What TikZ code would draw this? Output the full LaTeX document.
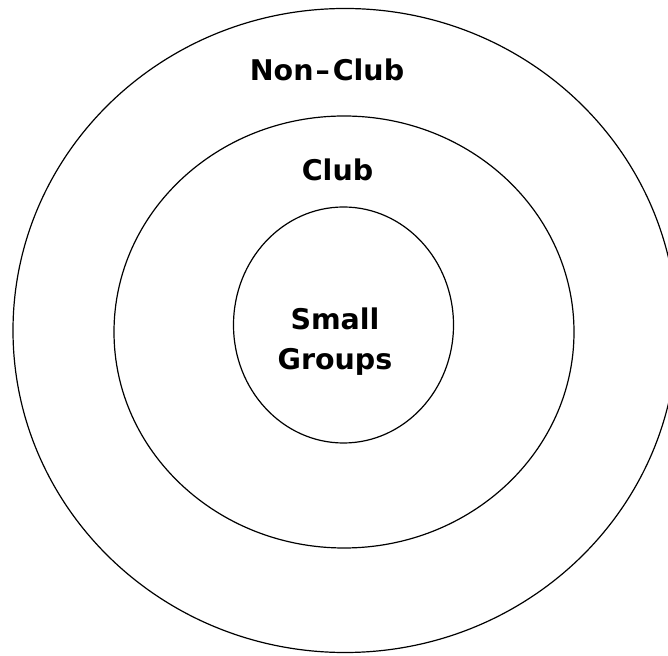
\documentclass[tikz,border=0pt]{standalone}
\usepackage{fontspec}
\setmainfont{DejaVu Sans}
\usepackage{tikz}
\usetikzlibrary{positioning}

\begin{document}
\begin{tikzpicture}[x=1pt,y=1pt,line width=1.2pt,
    ringlabel/.style={font=\bfseries\fontsize{28.5}{40}\selectfont,inner sep=0pt,align=center}]
  \useasboundingbox (0,0) rectangle (668,655);
  \clip (0,0) rectangle (668,655);
  % rings, outer to inner
  \draw (345,324.5) ellipse [x radius=332,y radius=322];
  \draw (344,323) ellipse [x radius=230,y radius=216];
  \draw (343.5,330) ellipse [x radius=110,y radius=118];
  % labels
  \node[ringlabel] (nonclub) at (327,585) {Non\kern2pt–\kern3ptClub};
  \node[ringlabel] (club) at (337.5,485) {Club};
  \node[ringlabel] (groups) at (335,313) {Small\\Groups};
\end{tikzpicture}
\end{document}
